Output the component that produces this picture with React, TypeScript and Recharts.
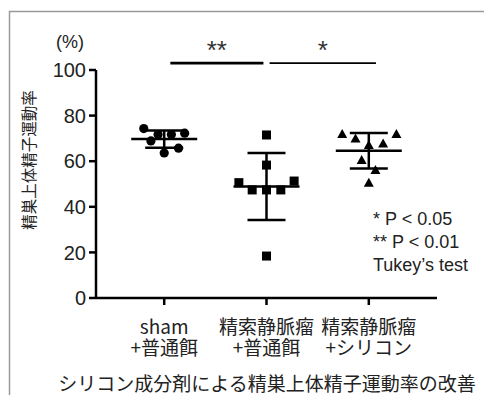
import React from 'react';
import {
  ComposedChart,
  Scatter,
  XAxis,
  YAxis,
  ErrorBar,
  ReferenceLine,
} from 'recharts';

const groupPos = [1, 2, 3];
const groupLabels = [
  ['sham', '+普通餌'],
  ['精索静脈瘤', '+普通餌'],
  ['精索静脈瘤', '+シリコン'],
];

// values, with the horizontal scatter of each point
const shamValues = [74.3, 68.9, 71.7, 71.7, 72.3, 65.7, 63.6];
const shamJitter = [-0.2, -0.13, -0.06, 0.07, 0.2, 0.14, 0];
const varicoValues = [71.5, 58.3, 50.6, 47.4, 47.4, 47.4, 51.3, 18.4];
const varicoJitter = [0, 0, -0.27, -0.14, 0, 0.14, 0.27, 0];
const siliconValues = [71.9, 70.0, 67.1, 67.8, 71.9, 60.5, 56.1, 50.6];
const siliconJitter = [-0.26, -0.13, 0, 0.14, 0.27, -0.07, 0.065, 0];

const means = [69.7, 48.9, 64.6];
const sds = [3.8, 14.7, 7.8];

const sigBars = [
  { from: 1.06, to: 1.97, level: 103, label: '**', width: 2.6 },
  { from: 2.03, to: 3.07, level: 103, label: '*', width: 1.8 },
];

const yTicks = [0, 20, 40, 60, 80, 100];
const notes = ['* P < 0.05', '** P < 0.01', 'Tukey\u2019s test'];

const FONT = "'Liberation Sans', Arial, 'Noto Sans CJK JP', sans-serif";
const CJK = "'Noto Sans CJK JP', 'Liberation Sans', sans-serif";

const toPoints = (g: number, vals: number[], jit: number[]) =>
  vals.map((v, i) => ({ x: groupPos[g] + jit[i], y: v }));

const shamData = toPoints(0, shamValues, shamJitter);
const varicoData = toPoints(1, varicoValues, varicoJitter);
const siliconData = toPoints(2, siliconValues, siliconJitter);
const meanData = groupPos.map((p, i) => ({ x: p, y: means[i], err: sds[i] }));

const Dot = (props: any) => <circle cx={props.cx} cy={props.cy} r={4.6} fill="#000" />;
const Sq = (props: any) => (
  <rect x={props.cx - 4.5} y={props.cy - 4.5} width={9} height={9} fill="#000" />
);
const Tri = (props: any) => (
  <path
    d={`M${props.cx},${props.cy - 5} L${props.cx + 5},${props.cy + 4} L${props.cx - 5},${props.cy + 4} Z`}
    fill="#000"
  />
);
const MeanLine = (props: any) => (
  <line x1={props.cx - 33} x2={props.cx + 33} y1={props.cy} y2={props.cy} stroke="#000" strokeWidth={2.5} />
);

const XTick = (props: any) => {
  const { x, y, payload } = props;
  const lines = groupLabels[groupPos.indexOf(payload.value)] || [];
  return (
    <g>
      {lines.map((l, i) => (
        <text
          key={i}
          x={x}
          y={y + 18 + i * 21}
          textAnchor="middle"
          dominantBaseline="central"
          fontSize={19}
          fill="#222"
          fontFamily={CJK}
        >
          {l}
        </text>
      ))}
    </g>
  );
};

export default function App() {
  return (
    <div style={{ position: 'absolute', left: 0, top: 0, width: 484, height: 395, background: '#fff' }}>
      <ComposedChart
        width={484}
        height={395}
        margin={{ top: 70, right: 47, bottom: 0, left: 0 }}
        style={{ fontFamily: FONT }}
      >
        <XAxis
          type="number"
          dataKey="x"
          domain={[1 / 3, 11 / 3]}
          ticks={groupPos}
          tick={<XTick />}
          tickSize={7}
          height={97}
          axisLine={{ stroke: '#000', strokeWidth: 2.5 }}
          tickLine={{ stroke: '#000', strokeWidth: 2.5 }}
          allowDataOverflow
        />
        <YAxis
          type="number"
          dataKey="y"
          domain={[0, 100]}
          ticks={yTicks}
          width={96}
          tickSize={7}
          tickMargin={3}
          tick={{ fontSize: 20, fill: '#222', fontFamily: FONT }}
          axisLine={{ stroke: '#000', strokeWidth: 2.5 }}
          tickLine={{ stroke: '#000', strokeWidth: 2.5 }}
          allowDataOverflow
        />
        {sigBars.map((b, i) => (
          <ReferenceLine
            key={i}
            segment={[
              { x: b.from, y: b.level },
              { x: b.to, y: b.level },
            ]}
            stroke="#000"
            strokeWidth={b.width}
            ifOverflow="visible"
            label={{ value: b.label, position: 'top', offset: 4, fontSize: 26, fill: '#333', fontFamily: FONT }}
          />
        ))}
        <Scatter data={shamData} shape={<Dot />} isAnimationActive={false} />
        <Scatter data={varicoData} shape={<Sq />} isAnimationActive={false} />
        <Scatter data={siliconData} shape={<Tri />} isAnimationActive={false} />
        <Scatter data={meanData} shape={<MeanLine />} isAnimationActive={false}>
          <ErrorBar dataKey="err" direction="y" width={19} stroke="#000" strokeWidth={2.5} isAnimationActive={false} />
        </Scatter>
      </ComposedChart>
      <svg
        width={484}
        height={395}
        style={{ position: 'absolute', left: 0, top: 0, pointerEvents: 'none' }}
      >
        <path d="M9.5,395 V11.5 H484" fill="none" stroke="#9a9a9a" strokeWidth={1.5} />
        <text x={70} y={42} textAnchor="middle" dominantBaseline="central" fontSize={18} fill="#222" fontFamily={FONT}>
          (%)
        </text>
        <text
          x={28}
          y={160}
          transform="rotate(-90 28 160)"
          textAnchor="middle"
          dominantBaseline="central"
          fontSize={15.5}
          fill="#222"
          fontFamily={CJK}
        >
          精巣上体精子運動率
        </text>
        {notes.map((n, i) => (
          <text key={i} x={373} y={219 + i * 23} dominantBaseline="central" fontSize={18} fill="#222" fontFamily={FONT}>
            {n}
          </text>
        ))}
        <text x={267} y={382} textAnchor="middle" dominantBaseline="central" fontSize={19} fill="#222" fontFamily={CJK}>
          シリコン成分剤による精巣上体精子運動率の改善
        </text>
      </svg>
    </div>
  );
}
